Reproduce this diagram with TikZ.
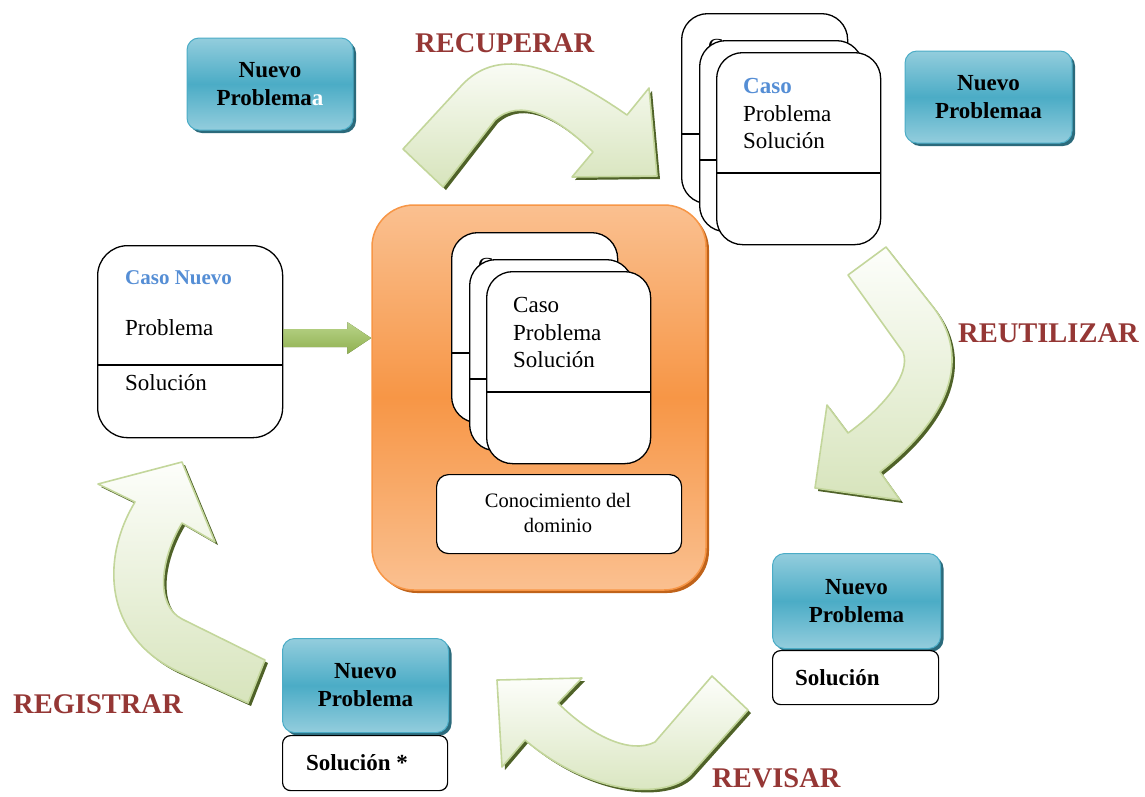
\documentclass[tikz,border=0pt]{standalone}
\usepackage{fontspec}
\setmainfont{Liberation Serif}
\usetikzlibrary{shadows,calc}

\definecolor{labelred}{HTML}{953735}
\definecolor{caseblue}{HTML}{558ED5}
\definecolor{tealmid}{HTML}{4BACC6}
\definecolor{teallight}{HTML}{93CDDD}
\definecolor{tealshadow}{HTML}{2B6A7B}
\definecolor{orangemid}{HTML}{F79646}
\definecolor{orangelight}{HTML}{FAC090}
\definecolor{orangeshadow}{HTML}{C0631A}
\definecolor{leafline}{HTML}{C3D69B}
\definecolor{leaflight}{HTML}{FDFEFB}
\definecolor{leafdark}{HTML}{D7E4BC}
\definecolor{mossshadow}{HTML}{4F6228}
\definecolor{greentop}{HTML}{B9D48A}
\definecolor{greenbottom}{HTML}{8FB04F}

\tikzset{
  tealbox/.style={draw=tealmid, line width=1pt, rounded corners=12pt,
    top color=teallight, bottom color=teallight, middle color=tealmid,
    drop shadow={shadow xshift=3pt, shadow yshift=-3pt, fill=tealshadow, opacity=1},
    align=center, font=\fontsize{23}{28}\selectfont\bfseries, inner sep=0pt},
  solbox/.style={draw=black, line width=1.2pt, fill=white, rounded corners=8pt, inner sep=0pt},
  card/.style={draw=black, line width=1.3pt, fill=white, rounded corners=26pt, inner sep=0pt},
  cardline/.style={draw=black, line width=1.3pt},
  cardtext/.style={anchor=base west, inner sep=0pt, font=\fontsize{23}{28}\selectfont},
  casetitle/.style={cardtext, text=caseblue, font=\fontsize{23}{28}\selectfont\bfseries},
  boldtext/.style={anchor=base west, inner sep=0pt, font=\fontsize{23}{28}\selectfont\bfseries},
  steplabel/.style={anchor=base west, inner sep=0pt, text=labelred,
    font=\fontsize{28.5}{32}\selectfont\bfseries},
  arrowbody/.style={draw=leafline, line width=1.6pt, line join=round,
    top color=leaflight, bottom color=leafdark},
  arrowshadow/.style={fill=mossshadow},
}

% a curved block arrow with its dark offset shadow
\newcommand\leafarrow[1]{%
  \fill[arrowshadow, shift={(3,3)}] #1;
  \path[arrowbody] #1;}

% a stack of three cards, the front one holding the text
% #1 name prefix, #2 x of the back card, #3 y of the back card, #4 style of the title
\newcommand\cardstack[4]{%
  \node[card, minimum width=166pt, minimum height=190pt, anchor=north west] (#1back) at (#2,#3) {};
  \draw[cardline] (#1back.west |- 0,#3+121) -- (#1back.east |- 0,#3+121);
  \node[cardtext] (#1backcaso) at (#2+27,#3+41) {Caso};
  \node[card, minimum width=163pt, minimum height=191pt, anchor=north west] (#1mid) at (#2+18,#3+27) {};
  \draw[cardline] (#1mid.west |- 0,#3+147) -- (#1mid.east |- 0,#3+147);
  \node[card, minimum width=164pt, minimum height=192pt, anchor=north west] (#1front) at (#2+35,#3+39) {};
  \draw[cardline] (#1front.west |- 0,#3+160) -- (#1front.east |- 0,#3+160);
  \node[#4] (#1caso) at (#2+62,#3+80) {Caso};
  \node[cardtext] (#1prob) at (#2+62,#3+108) {Problema};
  \node[cardtext] (#1sol) at (#2+62,#3+135) {Solución};
}

\begin{document}
\begin{tikzpicture}[x=1pt, y=-1pt]
\useasboundingbox (0,0) rectangle (1145,796);

% ---------- knowledge base ----------
\node[draw=orangemid, line width=1.5pt, rounded corners=42pt,
  top color=orangelight, bottom color=orangelight, middle color=orangemid,
  drop shadow={shadow xshift=3pt, shadow yshift=-3pt, fill=orangeshadow, opacity=1},
  minimum width=334pt, minimum height=385pt, inner sep=0pt] (base) at (539,397.5) {};

\cardstack{kb}{451}{232}{cardtext}

\node[solbox, rounded corners=12pt, minimum width=245pt, minimum height=79pt,
  anchor=north west] (dom) at (436,474) {};
\node[inner sep=0pt, anchor=base, font=\fontsize{20.5}{25}\selectfont] (dom1) at (558,507) {Conocimiento del};
\node[inner sep=0pt, anchor=base, font=\fontsize{20.5}{25}\selectfont] (dom2) at (558,532) {dominio};

% ---------- retrieved cases ----------
\cardstack{rc}{681}{13}{casetitle}

% ---------- new case ----------
\node[card, rounded corners=30pt, minimum width=185pt, minimum height=192pt,
  anchor=north west] (newcase) at (97,245) {};
\draw[cardline] (newcase.west |- 0,365) -- (newcase.east |- 0,365);
\node[casetitle, font=\fontsize{21}{26}\selectfont\bfseries] (nctitle) at (125,284) {Caso Nuevo};
\node[cardtext] (ncprob) at (125,335) {Problema};
\node[cardtext] (ncsol) at (125,390) {Solución};

% straight arrow from the new case into the knowledge base
\coordinate (inA) at (newcase.east |- 0,338);
\coordinate (inB) at (base.west |- 0,338);
\fill[mossshadow, shift={(3,3)}]
  ($(inA)+(0,-9)$) -- ($(inB)+(-24,-9)$) -- ($(inB)+(-24,-16)$) -- (inB)
  -- ($(inB)+(-24,16)$) -- ($(inB)+(-24,9)$) -- ($(inA)+(0,9)$) -- cycle;
\path[top color=greentop, bottom color=greenbottom]
  ($(inA)+(0,-9)$) -- ($(inB)+(-24,-9)$) -- ($(inB)+(-24,-16)$) -- (inB)
  -- ($(inB)+(-24,16)$) -- ($(inB)+(-24,9)$) -- ($(inA)+(0,9)$) -- cycle;

% ---------- problem boxes ----------
\node[tealbox, minimum width=166pt, minimum height=92pt] (np1) at (270,84)
  {Nuevo\\Problema\textcolor{white}{a}};
\node[tealbox, minimum width=167pt, minimum height=92pt] (np2) at (988.5,97)
  {Nuevo\\Problemaa};

\node[tealbox, minimum width=168pt, minimum height=95pt, anchor=north west] (np3) at (772,553)
  {Nuevo\\Problema};
\node[solbox, minimum width=166pt, minimum height=54pt, anchor=north west] (sol3) at (772,650) {};
\node[boldtext] (sol3t) at (795,685) {Solución};

\node[tealbox, minimum width=166pt, minimum height=94pt, anchor=north west] (np4) at (282,638)
  {Nuevo\\Problema};
\node[solbox, minimum width=165pt, minimum height=55pt, anchor=north west] (sol4) at (282,735) {};
\node[boldtext] (sol4t) at (306,770) {Solución *};

% ---------- cycle arrows ----------
% retrieve
\leafarrow{(403,149) -- (462,85) .. controls (495,50) and (545,58) .. (627,115)
  -- (649,88) -- (657,176) -- (572,177) -- (593,152)
  .. controls (555,115) and (520,98) .. (495,120) -- (443,187) -- cycle}
% reuse
\leafarrow{(886,247) -- (930,303) .. controls (965,345) and (965,405) .. (880,472)
  -- (900,500) -- (815,488) -- (827,405) -- (848,433)
  .. controls (880,410) and (912,375) .. (903,352) -- (848,275) -- cycle}
% revise
\leafarrow{(748,710) -- (690,775) .. controls (665,800) and (590,795) .. (525,740)
  -- (502,767) -- (497,680) -- (582,678) -- (558,703)
  .. controls (590,735) and (630,755) .. (655,742) -- (712,676) -- cycle}
% retain
\leafarrow{(248,703) -- (175,670) .. controls (105,635) and (100,560) .. (135,502)
  -- (98,484) -- (182,462) -- (215,542) -- (182,523)
  .. controls (160,560) and (155,605) .. (182,619) -- (265,660) -- cycle}

% ---------- step labels ----------
\node[steplabel] (lret) at (415,52) {RECUPERAR};
\node[steplabel] (lreu) at (958,342) {REUTILIZAR};
\node[steplabel] (lrev) at (712,787) {REVISAR};
\node[steplabel] (lreg) at (13,713) {REGISTRAR};
\end{tikzpicture}
\end{document}
